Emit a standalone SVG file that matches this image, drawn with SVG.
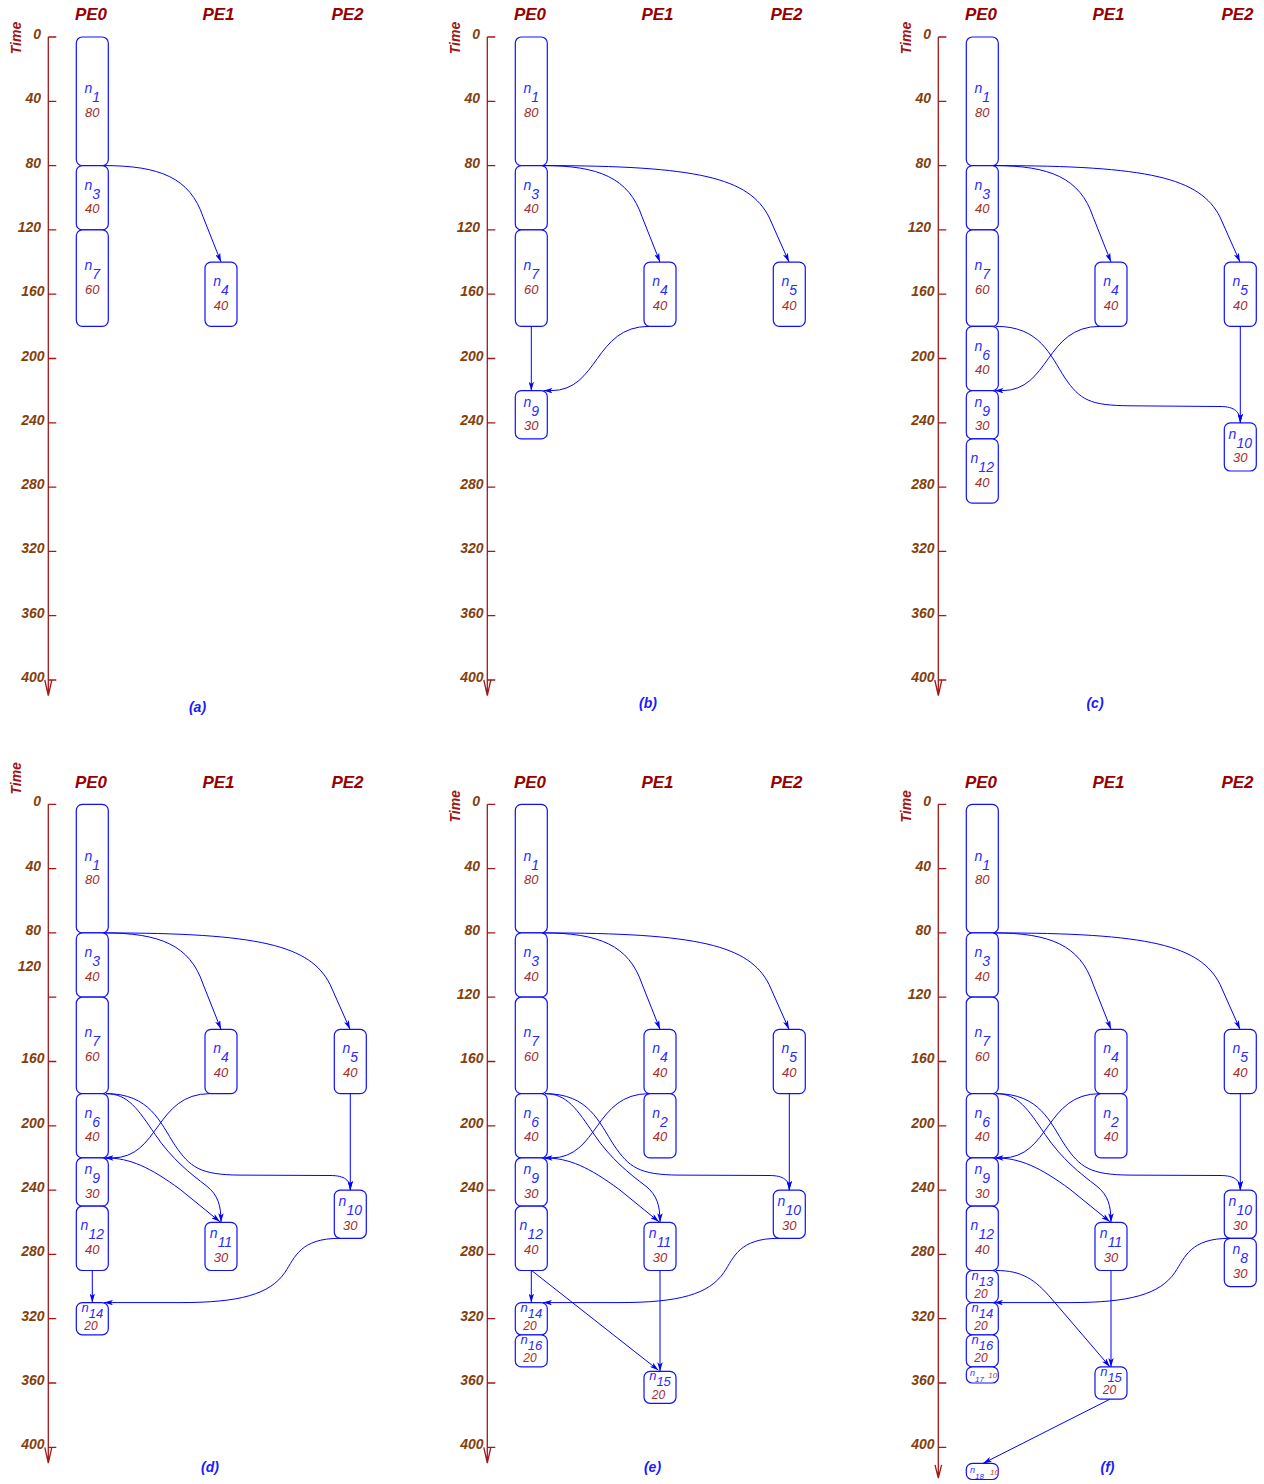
<svg xmlns="http://www.w3.org/2000/svg" width="1264" height="1484" viewBox="0 0 1264 1484">
<style>
.ax{stroke:#a31818;stroke-width:1.3;fill:none}
.tl{font-family:'Liberation Sans',Arial,sans-serif;font-size:14px;font-style:italic;font-weight:bold;fill:#84400c;text-anchor:end}
.pe{font-family:'Liberation Sans',Arial,sans-serif;font-size:17px;font-style:italic;font-weight:bold;fill:#990000;text-anchor:middle}
.time{font-family:'Liberation Sans',Arial,sans-serif;font-size:14px;font-style:italic;font-weight:bold;fill:#a01414;text-anchor:middle}
.cap{font-family:'Liberation Sans',Arial,sans-serif;font-size:14px;font-style:italic;font-weight:bold;fill:#1a1aff;text-anchor:middle}
.box{fill:#fff;stroke:#1010ff;stroke-width:1.2}
.nl{font-family:'Liberation Sans',Arial,sans-serif;font-size:14px;font-style:italic;fill:#2a2aff;text-anchor:middle}
.du{font-family:'Liberation Sans',Arial,sans-serif;font-size:13px;font-style:italic;fill:#a52a2a;text-anchor:middle}
.ns{font-family:'Liberation Sans',Arial,sans-serif;font-size:13px;font-style:italic;fill:#2a2aff;text-anchor:middle}
.ds{font-family:'Liberation Sans',Arial,sans-serif;font-size:12px;font-style:italic;fill:#a52a2a;text-anchor:middle}
.tn{font-family:'Liberation Sans',Arial,sans-serif;font-size:9px;font-style:italic;fill:#2a2aff}
.td{font-family:'Liberation Sans',Arial,sans-serif;font-size:8px;font-style:italic;fill:#c04040}
.e{fill:none;stroke:#0000ff;stroke-width:1;marker-end:url(#ah)}
</style>
<defs>
<marker id="ah" viewBox="0 0 10 6" refX="10" refY="3" markerWidth="9" markerHeight="5.4" orient="auto" markerUnits="userSpaceOnUse"><path d="M0,0 L10,3 L0,6 L2.5,3 z" fill="#0000ff"/></marker>
<path id="ticks" d="M48.3,37h8M48.3,101.3h8M48.3,165.6h8M48.3,229.9h8M48.3,294.2h8M48.3,358.5h8M48.3,422.8h8M48.3,487.1h8M48.3,551.4h8M48.3,615.7h8M48.3,680h8"/>
</defs>

<!-- ================= (a) ================= -->
<g id="panel-a">
<g id="a-axis">
<path class="ax" d="M48.3,37V695.7M44.8,680L48.3,695.7L51.8,680"/>
<use href="#ticks" class="ax"/>
<text class="tl" x="41" y="39">0</text><text class="tl" x="41" y="103.3">40</text><text class="tl" x="41" y="167.6">80</text><text class="tl" x="41" y="231.9">120</text><text class="tl" x="44.5" y="296.2">160</text><text class="tl" x="44.5" y="360.5">200</text><text class="tl" x="44.5" y="424.8">240</text><text class="tl" x="44.5" y="489.1">280</text><text class="tl" x="44.5" y="553.4">320</text><text class="tl" x="44.5" y="617.7">360</text><text class="tl" x="44.5" y="682">400</text>
<text class="time" transform="translate(20.5,38) rotate(-90)">Time</text>
</g>
<text class="pe" x="91" y="20">PE0</text><text class="pe" x="218.5" y="20">PE1</text><text class="pe" x="347.5" y="20">PE2</text>
<g id="a-n1"><rect class="box" x="76.3" y="37" width="32" height="128.6" rx="6"/><text class="nl" x="92.3" y="93.3">n<tspan dy="9">1</tspan></text><text class="du" x="92.3" y="116.8">80</text></g>
<g id="a-n3"><rect class="box" x="76.3" y="165.6" width="32" height="64.3" rx="6"/><text class="nl" x="92.3" y="189.75">n<tspan dy="9">3</tspan></text><text class="du" x="92.3" y="213.25">40</text></g>
<g id="a-n7"><rect class="box" x="76.3" y="229.9" width="32" height="96.45" rx="6"/><text class="nl" x="92.3" y="270.1">n<tspan dy="9">7</tspan></text><text class="du" x="92.3" y="293.6">60</text></g>
<g id="a-n4"><rect class="box" x="205" y="262.05" width="32" height="64.3" rx="6"/><text class="nl" x="221" y="286.2">n<tspan dy="9">4</tspan></text><text class="du" x="221" y="309.7">40</text></g>
<g id="a-edges">
<path class="e" d="M104,165.6C160,165.6 190,178 203,216.7L221,262"/>
</g>
<text class="cap" x="197.5" y="712">(a)</text>
</g>

<!-- ================= (b) ================= -->
<g id="panel-b" transform="translate(439,0)">
<g id="b-axis">
<path class="ax" d="M48.3,37V695.7M44.8,680L48.3,695.7L51.8,680"/>
<use href="#ticks" class="ax"/>
<text class="tl" x="41" y="39">0</text><text class="tl" x="41" y="103.3">40</text><text class="tl" x="41" y="167.6">80</text><text class="tl" x="41" y="231.9">120</text><text class="tl" x="44.5" y="296.2">160</text><text class="tl" x="44.5" y="360.5">200</text><text class="tl" x="44.5" y="424.8">240</text><text class="tl" x="44.5" y="489.1">280</text><text class="tl" x="44.5" y="553.4">320</text><text class="tl" x="44.5" y="617.7">360</text><text class="tl" x="44.5" y="682">400</text>
<text class="time" transform="translate(21,38) rotate(-90)">Time</text>
</g>
<text class="pe" x="91" y="20">PE0</text><text class="pe" x="218.5" y="20">PE1</text><text class="pe" x="347.5" y="20">PE2</text>
<g id="b-n1"><rect class="box" x="76.3" y="37" width="32" height="128.6" rx="6"/><text class="nl" x="92.3" y="93.3">n<tspan dy="9">1</tspan></text><text class="du" x="92.3" y="116.8">80</text></g>
<g id="b-n3"><rect class="box" x="76.3" y="165.6" width="32" height="64.3" rx="6"/><text class="nl" x="92.3" y="189.75">n<tspan dy="9">3</tspan></text><text class="du" x="92.3" y="213.25">40</text></g>
<g id="b-n7"><rect class="box" x="76.3" y="229.9" width="32" height="96.45" rx="6"/><text class="nl" x="92.3" y="270.1">n<tspan dy="9">7</tspan></text><text class="du" x="92.3" y="293.6">60</text></g>
<g id="b-n9"><rect class="box" x="76.3" y="390.65" width="32" height="48.25" rx="6"/><text class="nl" x="92.3" y="406.8">n<tspan dy="9">9</tspan></text><text class="du" x="92.3" y="430.3">30</text></g>
<g id="b-n4"><rect class="box" x="205" y="262.05" width="32" height="64.3" rx="6"/><text class="nl" x="221" y="286.2">n<tspan dy="9">4</tspan></text><text class="du" x="221" y="309.7">40</text></g>
<g id="b-n5"><rect class="box" x="334.3" y="262.05" width="32" height="64.3" rx="6"/><text class="nl" x="350.3" y="286.2">n<tspan dy="9">5</tspan></text><text class="du" x="350.3" y="309.7">40</text></g>
<g id="b-edges">
<path class="e" d="M104,165.6C160,165.6 190,178 203,216.7L221,262"/>
<path class="e" d="M104,165.6C260,165.6 310,178 330,217L350,262"/>
<path class="e" d="M92.3,326.35V390.65"/>
<path class="e" d="M210,326.35C155,326.35 160,390.65 112,390.65L104.5,390.65"/>
</g>
<text class="cap" x="209" y="708">(b)</text>
</g>

<!-- ================= (c) ================= -->
<g id="panel-c" transform="translate(890,0)">
<g id="c-axis">
<path class="ax" d="M48.3,37V695.7M44.8,680L48.3,695.7L51.8,680"/>
<use href="#ticks" class="ax"/>
<text class="tl" x="41" y="39">0</text><text class="tl" x="41" y="103.3">40</text><text class="tl" x="41" y="167.6">80</text><text class="tl" x="41" y="231.9">120</text><text class="tl" x="44.5" y="296.2">160</text><text class="tl" x="44.5" y="360.5">200</text><text class="tl" x="44.5" y="424.8">240</text><text class="tl" x="44.5" y="489.1">280</text><text class="tl" x="44.5" y="553.4">320</text><text class="tl" x="44.5" y="617.7">360</text><text class="tl" x="44.5" y="682">400</text>
<text class="time" transform="translate(20.5,38) rotate(-90)">Time</text>
</g>
<text class="pe" x="91" y="20">PE0</text><text class="pe" x="218.5" y="20">PE1</text><text class="pe" x="347.5" y="20">PE2</text>
<g id="c-n1"><rect class="box" x="76.3" y="37" width="32" height="128.6" rx="6"/><text class="nl" x="92.3" y="93.3">n<tspan dy="9">1</tspan></text><text class="du" x="92.3" y="116.8">80</text></g>
<g id="c-n3"><rect class="box" x="76.3" y="165.6" width="32" height="64.3" rx="6"/><text class="nl" x="92.3" y="189.75">n<tspan dy="9">3</tspan></text><text class="du" x="92.3" y="213.25">40</text></g>
<g id="c-n7"><rect class="box" x="76.3" y="229.9" width="32" height="96.45" rx="6"/><text class="nl" x="92.3" y="270.1">n<tspan dy="9">7</tspan></text><text class="du" x="92.3" y="293.6">60</text></g>
<g id="c-n6"><rect class="box" x="76.3" y="326.35" width="32" height="64.3" rx="6"/><text class="nl" x="92.3" y="350.5">n<tspan dy="9">6</tspan></text><text class="du" x="92.3" y="374">40</text></g>
<g id="c-n9"><rect class="box" x="76.3" y="390.65" width="32" height="48.25" rx="6"/><text class="nl" x="92.3" y="406.8">n<tspan dy="9">9</tspan></text><text class="du" x="92.3" y="430.3">30</text></g>
<g id="c-n12"><rect class="box" x="76.3" y="438.9" width="32" height="64.3" rx="6"/><text class="nl" x="92.3" y="463">n<tspan dy="9">12</tspan></text><text class="du" x="92.3" y="486.5">40</text></g>
<g id="c-n4"><rect class="box" x="205" y="262.05" width="32" height="64.3" rx="6"/><text class="nl" x="221" y="286.2">n<tspan dy="9">4</tspan></text><text class="du" x="221" y="309.7">40</text></g>
<g id="c-n5"><rect class="box" x="334.3" y="262.05" width="32" height="64.3" rx="6"/><text class="nl" x="350.3" y="286.2">n<tspan dy="9">5</tspan></text><text class="du" x="350.3" y="309.7">40</text></g>
<g id="c-n10"><rect class="box" x="334.3" y="422.8" width="32" height="48.2" rx="6"/><text class="nl" x="350.3" y="438.9">n<tspan dy="9">10</tspan></text><text class="du" x="350.3" y="462.4">30</text></g>
<g id="c-edges">
<path class="e" d="M104,165.6C160,165.6 190,178 203,216.7L221,262"/>
<path class="e" d="M104,165.6C260,165.6 310,178 330,217L350,262"/>
<path class="e" d="M210,326.35C155,326.35 160,390.65 112,390.65L104.5,390.65"/>
<path class="e" d="M106,326.35C150,326.35 160,355 175,378C190,400 200,405.5 240,405.8L330,406.5C345,406.5 350.3,412 350.3,422.8"/>
<path class="e" d="M350.3,326.35V422.8"/>
</g>
<text class="cap" x="205" y="708">(c)</text>
</g>

<!-- ================= (d) ================= -->
<g id="panel-d" transform="translate(0,767.3)">
<g id="d-axis">
<path class="ax" d="M48.3,37V695.7M44.8,680L48.3,695.7L51.8,680"/>
<use href="#ticks" class="ax"/>
<text class="tl" x="41" y="39">0</text><text class="tl" x="41" y="103.3">40</text><text class="tl" x="41" y="167.6">80</text><text class="tl" x="41" y="203.5">120</text><text class="tl" x="44.5" y="296.2">160</text><text class="tl" x="44.5" y="360.5">200</text><text class="tl" x="44.5" y="424.8">240</text><text class="tl" x="44.5" y="489.1">280</text><text class="tl" x="44.5" y="553.4">320</text><text class="tl" x="44.5" y="617.7">360</text><text class="tl" x="44.5" y="682">400</text>
<text class="time" transform="translate(21,11) rotate(-90)">Time</text>
</g>
<text class="pe" x="91" y="21">PE0</text><text class="pe" x="218.5" y="21">PE1</text><text class="pe" x="347.5" y="21">PE2</text>
<g id="d-n1"><rect class="box" x="76.3" y="37" width="32" height="128.6" rx="6"/><text class="nl" x="92.3" y="93.3">n<tspan dy="9">1</tspan></text><text class="du" x="92.3" y="116.8">80</text></g>
<g id="d-n3"><rect class="box" x="76.3" y="165.6" width="32" height="64.3" rx="6"/><text class="nl" x="92.3" y="189.75">n<tspan dy="9">3</tspan></text><text class="du" x="92.3" y="213.25">40</text></g>
<g id="d-n7"><rect class="box" x="76.3" y="229.9" width="32" height="96.45" rx="6"/><text class="nl" x="92.3" y="270.1">n<tspan dy="9">7</tspan></text><text class="du" x="92.3" y="293.6">60</text></g>
<g id="d-n6"><rect class="box" x="76.3" y="326.35" width="32" height="64.3" rx="6"/><text class="nl" x="92.3" y="350.5">n<tspan dy="9">6</tspan></text><text class="du" x="92.3" y="374">40</text></g>
<g id="d-n9"><rect class="box" x="76.3" y="390.65" width="32" height="48.25" rx="6"/><text class="nl" x="92.3" y="406.8">n<tspan dy="9">9</tspan></text><text class="du" x="92.3" y="430.3">30</text></g>
<g id="d-n12"><rect class="box" x="76.3" y="438.9" width="32" height="64.3" rx="6"/><text class="nl" x="92.3" y="463">n<tspan dy="9">12</tspan></text><text class="du" x="92.3" y="486.5">40</text></g>
<g id="d-n14"><rect class="box" x="76.3" y="535.3" width="32" height="32.2" rx="6"/><text class="ns" x="92.3" y="544.4">n<tspan dy="6">14</tspan></text><text class="ds" x="91" y="562.8">20</text></g>
<g id="d-n4"><rect class="box" x="205" y="262.05" width="32" height="64.3" rx="6"/><text class="nl" x="221" y="286.2">n<tspan dy="9">4</tspan></text><text class="du" x="221" y="309.7">40</text></g>
<g id="d-n11"><rect class="box" x="205" y="455" width="32" height="48.2" rx="6"/><text class="nl" x="221" y="471.1">n<tspan dy="9">11</tspan></text><text class="du" x="221" y="494.6">30</text></g>
<g id="d-n5"><rect class="box" x="334.3" y="262.05" width="32" height="64.3" rx="6"/><text class="nl" x="350.3" y="286.2">n<tspan dy="9">5</tspan></text><text class="du" x="350.3" y="309.7">40</text></g>
<g id="d-n10"><rect class="box" x="334.3" y="422.8" width="32" height="48.2" rx="6"/><text class="nl" x="350.3" y="438.9">n<tspan dy="9">10</tspan></text><text class="du" x="350.3" y="462.4">30</text></g>
<g id="d-edges">
<path class="e" d="M104,165.6C160,165.6 190,178 203,216.7L221,262"/>
<path class="e" d="M104,165.6C260,165.6 310,178 330,217L350,262"/>
<path class="e" d="M210,326.35C155,326.35 160,390.65 112,390.65L104.5,390.65"/>
<path class="e" d="M106,326.35C150,326.35 160,355 175,378C190,400 200,407.5 240,407.8L330,408.2C345,408.2 350.3,413 350.3,422.8"/>
<path class="e" d="M106,326.35C128,326.35 138,342 155,367C172,392 190,406 207,419C218,428 221,438 221,455"/>
<path class="e" d="M106,390.65C130,390.65 150,400 180,422L220,454.5"/>
<path class="e" d="M350.3,326.35V422.8"/>
<path class="e" d="M340,471C300,471 295,490 285,505C270,527 240,535.3 180,535.3L104,535.3"/>
<path class="e" d="M92.3,503.2V535.3"/>
</g>
<text class="cap" x="210" y="704.7">(d)</text>
</g>

<!-- ================= (e) ================= -->
<g id="panel-e" transform="translate(439,767.3)">
<g id="e-axis">
<path class="ax" d="M48.3,37V695.7M44.8,680L48.3,695.7L51.8,680"/>
<use href="#ticks" class="ax"/>
<text class="tl" x="41" y="39">0</text><text class="tl" x="41" y="103.3">40</text><text class="tl" x="41" y="167.6">80</text><text class="tl" x="41" y="231.9">120</text><text class="tl" x="44.5" y="296.2">160</text><text class="tl" x="44.5" y="360.5">200</text><text class="tl" x="44.5" y="424.8">240</text><text class="tl" x="44.5" y="489.1">280</text><text class="tl" x="44.5" y="553.4">320</text><text class="tl" x="44.5" y="617.7">360</text><text class="tl" x="44.5" y="682">400</text>
<text class="time" transform="translate(21,39) rotate(-90)">Time</text>
</g>
<text class="pe" x="91" y="21">PE0</text><text class="pe" x="218.5" y="21">PE1</text><text class="pe" x="347.5" y="21">PE2</text>
<g id="e-n1"><rect class="box" x="76.3" y="37" width="32" height="128.6" rx="6"/><text class="nl" x="92.3" y="93.3">n<tspan dy="9">1</tspan></text><text class="du" x="92.3" y="116.8">80</text></g>
<g id="e-n3"><rect class="box" x="76.3" y="165.6" width="32" height="64.3" rx="6"/><text class="nl" x="92.3" y="189.75">n<tspan dy="9">3</tspan></text><text class="du" x="92.3" y="213.25">40</text></g>
<g id="e-n7"><rect class="box" x="76.3" y="229.9" width="32" height="96.45" rx="6"/><text class="nl" x="92.3" y="270.1">n<tspan dy="9">7</tspan></text><text class="du" x="92.3" y="293.6">60</text></g>
<g id="e-n6"><rect class="box" x="76.3" y="326.35" width="32" height="64.3" rx="6"/><text class="nl" x="92.3" y="350.5">n<tspan dy="9">6</tspan></text><text class="du" x="92.3" y="374">40</text></g>
<g id="e-n9"><rect class="box" x="76.3" y="390.65" width="32" height="48.25" rx="6"/><text class="nl" x="92.3" y="406.8">n<tspan dy="9">9</tspan></text><text class="du" x="92.3" y="430.3">30</text></g>
<g id="e-n12"><rect class="box" x="76.3" y="438.9" width="32" height="64.3" rx="6"/><text class="nl" x="92.3" y="463">n<tspan dy="9">12</tspan></text><text class="du" x="92.3" y="486.5">40</text></g>
<g id="e-n14"><rect class="box" x="76.3" y="535.3" width="32" height="32.2" rx="6"/><text class="ns" x="92.3" y="544.4">n<tspan dy="6">14</tspan></text><text class="ds" x="91" y="562.8">20</text></g>
<g id="e-n16"><rect class="box" x="76.3" y="567.5" width="32" height="32.1" rx="6"/><text class="ns" x="92.3" y="576.5">n<tspan dy="6">16</tspan></text><text class="ds" x="91" y="594.9">20</text></g>
<g id="e-n4"><rect class="box" x="205" y="262.05" width="32" height="64.3" rx="6"/><text class="nl" x="221" y="286.2">n<tspan dy="9">4</tspan></text><text class="du" x="221" y="309.7">40</text></g>
<g id="e-n2"><rect class="box" x="205" y="326.35" width="32" height="64.3" rx="6"/><text class="nl" x="221" y="350.5">n<tspan dy="9">2</tspan></text><text class="du" x="221" y="374">40</text></g>
<g id="e-n11"><rect class="box" x="205" y="455" width="32" height="48.2" rx="6"/><text class="nl" x="221" y="471.1">n<tspan dy="9">11</tspan></text><text class="du" x="221" y="494.6">30</text></g>
<g id="e-n15"><rect class="box" x="205" y="604" width="32" height="32" rx="6"/><text class="ns" x="221" y="613">n<tspan dy="6">15</tspan></text><text class="ds" x="219.5" y="631.3">20</text></g>
<g id="e-n5"><rect class="box" x="334.3" y="262.05" width="32" height="64.3" rx="6"/><text class="nl" x="350.3" y="286.2">n<tspan dy="9">5</tspan></text><text class="du" x="350.3" y="309.7">40</text></g>
<g id="e-n10"><rect class="box" x="334.3" y="422.8" width="32" height="48.2" rx="6"/><text class="nl" x="350.3" y="438.9">n<tspan dy="9">10</tspan></text><text class="du" x="350.3" y="462.4">30</text></g>
<g id="e-edges">
<path class="e" d="M104,165.6C160,165.6 190,178 203,216.7L221,262"/>
<path class="e" d="M104,165.6C260,165.6 310,178 330,217L350,262"/>
<path class="e" d="M210,326.35C155,326.35 160,390.65 112,390.65L104.5,390.65"/>
<path class="e" d="M106,326.35C150,326.35 160,355 175,378C190,400 200,407.5 240,407.8L330,408.2C345,408.2 350.3,413 350.3,422.8"/>
<path class="e" d="M106,326.35C128,326.35 138,342 155,367C172,392 190,406 207,419C218,428 221,438 221,455"/>
<path class="e" d="M106,390.65C130,390.65 150,400 180,422L220,454.5"/>
<path class="e" d="M350.3,326.35V422.8"/>
<path class="e" d="M340,471C300,471 295,490 285,505C270,527 240,535.3 180,535.3L104,535.3"/>
<path class="e" d="M92.3,503.2V535.3"/>
<path class="e" d="M93,503.5L219.5,603"/>
<path class="e" d="M221,503.2V604"/>
</g>
<text class="cap" x="213.5" y="704.7">(e)</text>
</g>

<!-- ================= (f) ================= -->
<g id="panel-f" transform="translate(890,767.3)">
<g id="f-axis">
<path class="ax" d="M48.3,37V710.7M45,697.5L48.3,710.7L51.6,697.5"/>
<use href="#ticks" class="ax"/>
<text class="tl" x="41" y="39">0</text><text class="tl" x="41" y="103.3">40</text><text class="tl" x="41" y="167.6">80</text><text class="tl" x="41" y="231.9">120</text><text class="tl" x="44.5" y="296.2">160</text><text class="tl" x="44.5" y="360.5">200</text><text class="tl" x="44.5" y="424.8">240</text><text class="tl" x="44.5" y="489.1">280</text><text class="tl" x="44.5" y="553.4">320</text><text class="tl" x="44.5" y="617.7">360</text><text class="tl" x="44.5" y="682">400</text>
<text class="time" transform="translate(20.5,39) rotate(-90)">Time</text>
</g>
<text class="pe" x="91" y="21">PE0</text><text class="pe" x="218.5" y="21">PE1</text><text class="pe" x="347.5" y="21">PE2</text>
<g id="f-n1"><rect class="box" x="76.3" y="37" width="32" height="128.6" rx="6"/><text class="nl" x="92.3" y="93.3">n<tspan dy="9">1</tspan></text><text class="du" x="92.3" y="116.8">80</text></g>
<g id="f-n3"><rect class="box" x="76.3" y="165.6" width="32" height="64.3" rx="6"/><text class="nl" x="92.3" y="189.75">n<tspan dy="9">3</tspan></text><text class="du" x="92.3" y="213.25">40</text></g>
<g id="f-n7"><rect class="box" x="76.3" y="229.9" width="32" height="96.45" rx="6"/><text class="nl" x="92.3" y="270.1">n<tspan dy="9">7</tspan></text><text class="du" x="92.3" y="293.6">60</text></g>
<g id="f-n6"><rect class="box" x="76.3" y="326.35" width="32" height="64.3" rx="6"/><text class="nl" x="92.3" y="350.5">n<tspan dy="9">6</tspan></text><text class="du" x="92.3" y="374">40</text></g>
<g id="f-n9"><rect class="box" x="76.3" y="390.65" width="32" height="48.25" rx="6"/><text class="nl" x="92.3" y="406.8">n<tspan dy="9">9</tspan></text><text class="du" x="92.3" y="430.3">30</text></g>
<g id="f-n12"><rect class="box" x="76.3" y="438.9" width="32" height="64.3" rx="6"/><text class="nl" x="92.3" y="463">n<tspan dy="9">12</tspan></text><text class="du" x="92.3" y="486.5">40</text></g>
<g id="f-n13"><rect class="box" x="76.3" y="503.2" width="32" height="32.1" rx="6"/><text class="ns" x="92.3" y="512.3">n<tspan dy="6">13</tspan></text><text class="ds" x="91" y="530.6">20</text></g>
<g id="f-n14"><rect class="box" x="76.3" y="535.3" width="32" height="32.2" rx="6"/><text class="ns" x="92.3" y="544.4">n<tspan dy="6">14</tspan></text><text class="ds" x="91" y="562.8">20</text></g>
<g id="f-n16"><rect class="box" x="76.3" y="567.5" width="32" height="32.1" rx="6"/><text class="ns" x="92.3" y="576.5">n<tspan dy="6">16</tspan></text><text class="ds" x="91" y="594.9">20</text></g>
<g id="f-n17"><rect class="box" x="76.3" y="599.6" width="32" height="16.1" rx="6"/><text class="tn" x="80" y="609.2">n<tspan font-size="8" dy="6">17</tspan></text><text class="td" x="98.3" y="611.2">10</text></g>
<g id="f-n18"><rect class="box" x="76.3" y="696.1" width="32" height="16.1" rx="6"/><text class="tn" x="80" y="705.7">n<tspan font-size="8" dy="6">18</tspan></text><text class="td" x="100" y="707.6">10</text></g>
<g id="f-n4"><rect class="box" x="205" y="262.05" width="32" height="64.3" rx="6"/><text class="nl" x="221" y="286.2">n<tspan dy="9">4</tspan></text><text class="du" x="221" y="309.7">40</text></g>
<g id="f-n2"><rect class="box" x="205" y="326.35" width="32" height="64.3" rx="6"/><text class="nl" x="221" y="350.5">n<tspan dy="9">2</tspan></text><text class="du" x="221" y="374">40</text></g>
<g id="f-n11"><rect class="box" x="205" y="455" width="32" height="48.2" rx="6"/><text class="nl" x="221" y="471.1">n<tspan dy="9">11</tspan></text><text class="du" x="221" y="494.6">30</text></g>
<g id="f-n15"><rect class="box" x="205" y="599.6" width="32" height="32.2" rx="6"/><text class="ns" x="221" y="608.7">n<tspan dy="6">15</tspan></text><text class="ds" x="219.5" y="627.1">20</text></g>
<g id="f-n5"><rect class="box" x="334.3" y="262.05" width="32" height="64.3" rx="6"/><text class="nl" x="350.3" y="286.2">n<tspan dy="9">5</tspan></text><text class="du" x="350.3" y="309.7">40</text></g>
<g id="f-n10"><rect class="box" x="334.3" y="422.8" width="32" height="48.2" rx="6"/><text class="nl" x="350.3" y="438.9">n<tspan dy="9">10</tspan></text><text class="du" x="350.3" y="462.4">30</text></g>
<g id="f-n8"><rect class="box" x="334.3" y="471" width="32" height="48.25" rx="6"/><text class="nl" x="350.3" y="487.1">n<tspan dy="9">8</tspan></text><text class="du" x="350.3" y="510.6">30</text></g>
<g id="f-edges">
<path class="e" d="M104,165.6C160,165.6 190,178 203,216.7L221,262"/>
<path class="e" d="M104,165.6C260,165.6 310,178 330,217L350,262"/>
<path class="e" d="M210,326.35C155,326.35 160,390.65 112,390.65L104.5,390.65"/>
<path class="e" d="M106,326.35C150,326.35 160,355 175,378C190,400 200,407.5 240,407.8L330,408.2C345,408.2 350.3,413 350.3,422.8"/>
<path class="e" d="M106,326.35C128,326.35 138,342 155,367C172,392 190,406 207,419C218,428 221,438 221,455"/>
<path class="e" d="M106,390.65C130,390.65 150,400 180,422L220,454.5"/>
<path class="e" d="M350.3,326.35V422.8"/>
<path class="e" d="M340,471C300,471 295,490 285,505C270,527 240,535.3 180,535.3L104,535.3"/>
<path class="e" d="M106,503.2C132,503.2 145,512 162,532L220,599.6"/>
<path class="e" d="M221,503.2V599.6"/>
<path class="e" d="M219.7,632L93,696.1"/>
</g>
<text class="cap" x="217.5" y="704.7">(f)</text>
</g>
</svg>
